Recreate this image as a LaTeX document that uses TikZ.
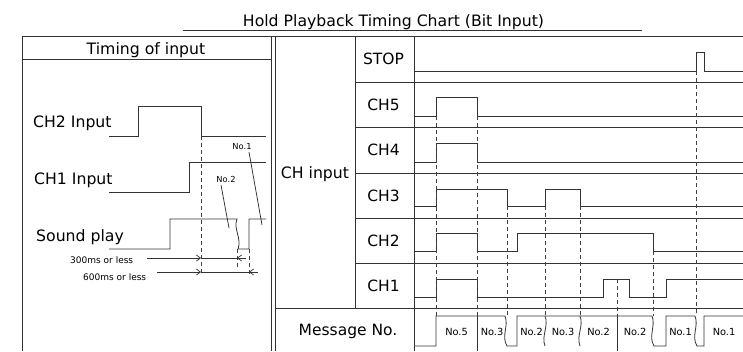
\documentclass[tikz,border=0pt]{standalone}
\usepackage{fontspec}
\setmainfont{DejaVu Sans}
\usetikzlibrary{arrows.meta}
\begin{document}
\begin{tikzpicture}[x=1pt,y=-1pt,
  ln/.style={line width=0.8pt, draw=black!80},
  sig/.style={line width=0.8pt, draw=black!80, line join=miter},
  dsh/.style={line width=0.7pt, draw=black!75, dash pattern=on 4pt off 3pt},
  big/.style={font=\fontsize{15.7}{18}\selectfont, inner sep=0pt, anchor=base},
  lab/.style={font=\fontsize{15.5}{18}\selectfont, inner sep=0pt, anchor=base},
  sml/.style={font=\fontsize{9.8}{12}\selectfont, inner sep=0pt, anchor=base},
  dimt/.style={font=\fontsize{9}{11}\selectfont, inner sep=0pt, anchor=base west},
  tny/.style={font=\fontsize{8.3}{10}\selectfont, inner sep=0pt, anchor=base},
  dimarrow/.style={line width=0.7pt, draw=black!80, -{Straight Barb[length=4pt,width=6pt]}}
]
\useasboundingbox (0,0) rectangle (743,351);

% title
\node[big] (title) at (393.5,26) {Hold Playback Timing Chart (Bit Input)};
\draw[ln] (183,30) -- (642,30);

% frame
\draw[ln] (22,36) -- (743,36);
\draw[ln] (22,36) -- (22,351);
\draw[ln] (22,59) -- (271,59);
\draw[ln] (271,36) -- (271,351);
\draw[ln] (275,36) -- (275,351);
\draw[ln] (355,36) -- (355,308);
\draw[ln] (414,36) -- (414,351);
\foreach \y in {82,127,173,218,263} \draw[ln] (355,\y) -- (743,\y);
\draw[ln] (275,308) -- (743,308);

% left panel
\node[big] (toi) at (146,54) {Timing of input};
\node[big, anchor=base west] (ch2in) at (33,127) {CH2 Input};
\node[big, anchor=base west] (ch1in) at (34,184) {CH1 Input};
\node[big, anchor=base west] (snd) at (36,241) {Sound play};

\draw[sig] (109,136) -- (138,136) -- (138,106) -- (201,106) -- (201,136) -- (266,136);
\draw[sig] (109,192) -- (189,192) -- (189,162) -- (266,162);
\draw[sig] (109,249) -- (170,249) -- (170,219) -- (237,219)
  .. controls (233,229) and (242,238) .. (238,249) -- (249,249) -- (249,219) -- (266,219);

\draw[dsh] (201,136) -- (201,273);
\draw[dsh] (237,249) -- (237,268);
\draw[dsh] (249,249) -- (249,277);

\node[tny] (n1) at (242,149) {No.1};
\node[tny] (n2) at (226,182) {No.2};
\coordinate (n1a) at (249,152);
\coordinate (n1b) at (262,225);
\coordinate (n2a) at (221,185);
\coordinate (n2b) at (229,228);
\draw[line width=0.7pt, draw=black!85] (n1a) -- (n1b);
\draw[line width=0.7pt, draw=black!85] (n2a) -- (n2b);

\node[dimt] (t300) at (70,263) {300ms or less};
\node[dimt] (t600) at (83,280) {600ms or less};
\draw[dimarrow] (147,258) -- (201,258);
\draw[line width=0.7pt, draw=black!80] (201,258) -- (237,258);
\draw[dimarrow] (246,258) -- (237,258);
\draw[dimarrow] (157,272) -- (201,272);
\draw[line width=0.7pt, draw=black!80] (201,272) -- (249,272);
\draw[dimarrow] (258,272) -- (249,272);

% right panel labels
\node[big] (chin) at (315,178) {CH input};
\node[lab] (lstop) at (383.5,64) {STOP};
\node[lab] (lch5) at (383.5,110) {CH5};
\node[lab] (lch4) at (383.5,155) {CH4};
\node[lab] (lch3) at (383.5,201) {CH3};
\node[lab] (lch2) at (383.5,246) {CH2};
\node[lab] (lch1) at (383.5,291) {CH1};
\node[lab] (lmsg) at (348,335) {Message No.};

% signals
\draw[sig] (414,71) -- (696,71) -- (696,52) -- (704,52) -- (704,71) -- (743,71);
\draw[sig] (414,116) -- (436,116) -- (436,97) -- (477,97) -- (477,116) -- (743,116);
\draw[sig] (414,162) -- (436,162) -- (436,143) -- (477,143) -- (477,162) -- (743,162);
\draw[sig] (414,206) -- (436,206) -- (436,189) -- (507,189) -- (507,206) -- (545,206) -- (545,189) -- (580,189) -- (580,206) -- (743,206);
\draw[sig] (414,251) -- (436,251) -- (436,233) -- (477,233) -- (477,251) -- (517,251) -- (517,233) -- (653,233) -- (653,251) -- (743,251);
\draw[sig] (414,297) -- (436,297) -- (436,279) -- (477,279) -- (477,297) -- (603,297) -- (603,279) -- (629,279) -- (629,297) -- (666,297) -- (666,279) -- (743,279);

% message row
\draw[sig] (414,346) -- (436,346) -- (436,316) -- (505,316)
  .. controls (509,326) and (501,336) .. (507,346) -- (517,346) -- (517,316) -- (652,316)
  .. controls (656,326) and (648,336) .. (654,346) -- (666,346) -- (666,316) -- (695,316)
  .. controls (699,326) and (691,336) .. (697,346) -- (704,346) -- (704,316) -- (743,316);
\draw[sig] (477,316) -- (477,351);
\draw[sig] (617,316) -- (617,351);
\draw[sig] (545,316) .. controls (549,326) and (541,336) .. (545,346);
\draw[sig] (580,316) .. controls (584,326) and (576,336) .. (580,346);

\node[sml] (m1) at (456.5,335) {No.5};
\node[sml] (m2) at (492,335) {No.3};
\node[sml] (m3) at (531.5,335) {No.2};
\node[sml] (m4) at (563,335) {No.3};
\node[sml] (m5) at (598.5,335) {No.2};
\node[sml] (m6) at (635,335) {No.2};
\node[sml] (m7) at (680.5,335) {No.1};
\node[sml] (m8) at (724,335) {No.1};

% dashed timing lines
\draw[dsh] (436,116) -- (436,316);
\draw[dsh] (477,116) -- (477,316);
\draw[dsh] (507,206) -- (507,316);
\draw[dsh] (545,206) -- (545,316);
\draw[dsh] (580,206) -- (580,316);
\draw[dsh] (617,279) -- (617,316);
\draw[dsh] (653,251) -- (653,316);
\draw[dsh] (696,71) -- (696,316);
\end{tikzpicture}
\end{document}
